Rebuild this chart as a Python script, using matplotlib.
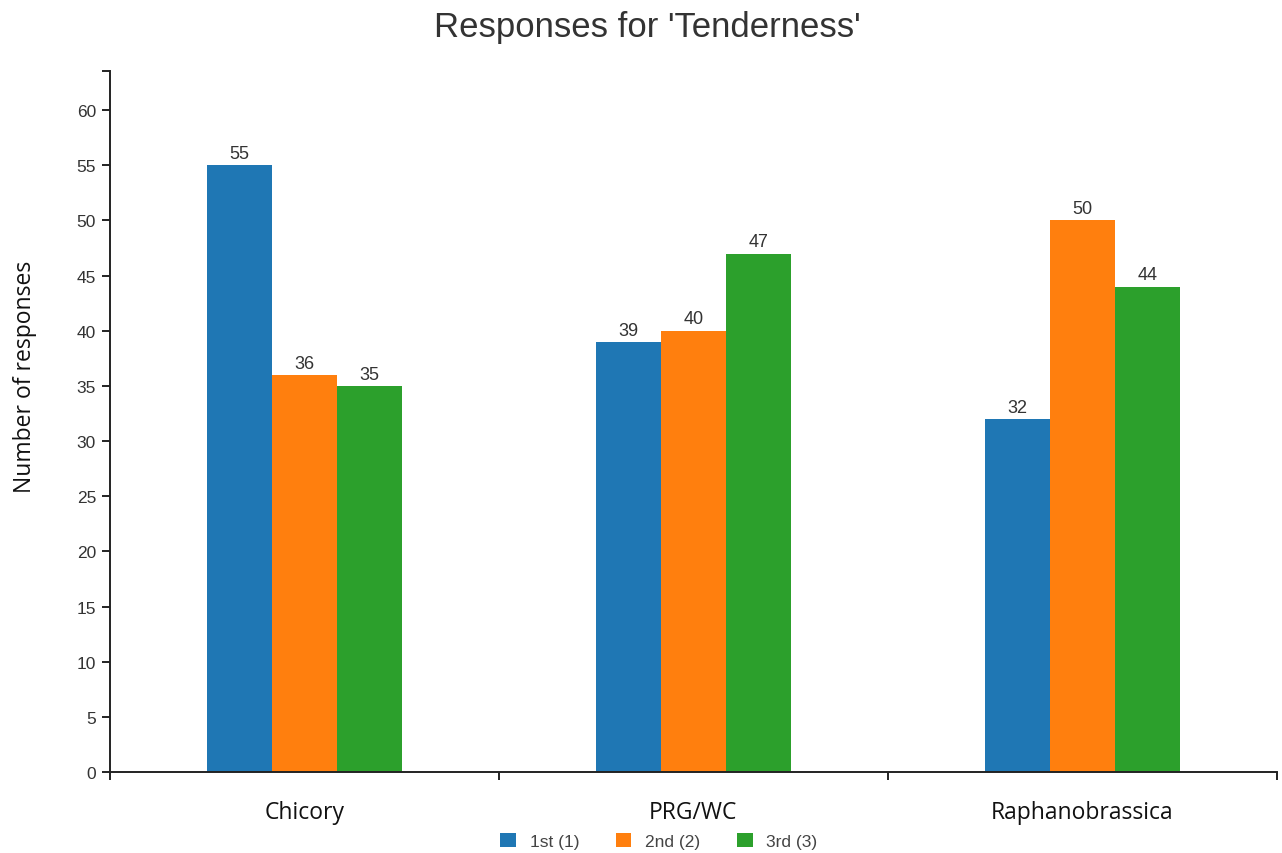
# grouped bar chart: ranking responses for tenderness per forage
import matplotlib
matplotlib.use("Agg")
import matplotlib.pyplot as plt
import numpy as np

forages = ["Chicory", "PRG/WC", "Raphanobrassica"]
ranks = ["1st (1)", "2nd (2)", "3rd (3)"]
first = [55, 39, 32]
second = [36, 40, 50]
third = [35, 47, 44]
colors = ["#1f77b4", "#ff7f0e", "#2ca02c"]
yticks = list(range(0, 65, 5))

fig = plt.figure(figsize=(12.82, 8.54), dpi=100)
ax = fig.add_axes([0.0858, 0.0948, 0.9102, 0.8209])

x = np.arange(len(forages))
w = 0.167
for k, (vals, lab, c) in enumerate(zip([first, second, third], ranks, colors)):
    bars = ax.bar(x + (k - 1) * w, vals, w, color=c, label=lab)
    for b, v in zip(bars, vals):
        ax.text(b.get_x() + b.get_width() / 2, v + 0.3, str(v), ha="center", va="bottom",
                fontsize=13, color="#333333", family="Liberation Sans")

ax.set_xlim(-0.5, 2.5)
ax.set_ylim(0, 63.55)

for s in ["top", "right"]:
    ax.spines[s].set_visible(False)
for s in ["left", "bottom"]:
    ax.spines[s].set_linewidth(1.4)
    ax.spines[s].set_color("#222222")

ax.set_yticks(yticks)
ax.set_yticklabels([str(t) for t in yticks], family="Liberation Sans", fontsize=12.5, color="#333333")
ax.set_yticks([63.55], minor=True)
ax.tick_params(axis="y", which="both", length=6, width=1.4, pad=4, color="#222222")

ax.set_xticks(x)
ax.set_xticklabels(forages, family="Open Sans", fontsize=16.5, color="#111111")
ax.tick_params(axis="x", which="major", length=0, pad=20)
ax.set_xticks([-0.5, 0.5, 1.5, 2.5], minor=True)
ax.tick_params(axis="x", which="minor", length=6, width=1.4, color="#222222")

ax.set_ylabel("Number of responses", family="Open Sans", fontsize=16.5, color="#111111")
ax.yaxis.set_label_coords(-0.0625, 0.565)

fig.suptitle("Responses for 'Tenderness'", family="Liberation Sans", fontsize=25,
             color="#333333", x=0.505, y=0.968, va="center")

leg = fig.legend(loc="center", bbox_to_anchor=(0.514, 0.014), ncol=3, frameon=False,
                 prop={"family": "Liberation Sans", "size": 12.5}, handlelength=0.9,
                 handleheight=0.9, handletextpad=0.8, columnspacing=2.1)
for t in leg.get_texts():
    t.set_color("#444444")

fig.savefig("out.png", dpi=100)
